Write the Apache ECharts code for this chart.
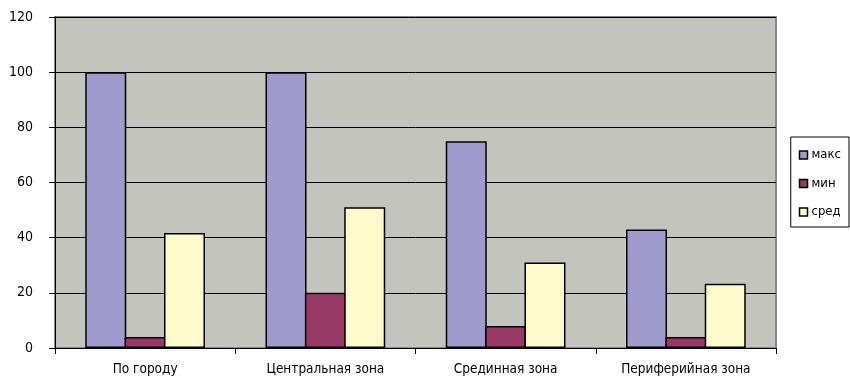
<!DOCTYPE html>
<html>
<head>
<meta charset="utf-8">
<script src="https://cdn.jsdelivr.net/npm/echarts@6/dist/echarts.min.js"></script>
<style>
  html, body { margin: 0; padding: 0; background: #fff; }
  #chart { width: 850px; height: 378px; }
</style>
</head>
<body>
<div id="chart"></div>
<script>
// Zones along the x axis
const categories = ['По городу', 'Центральная зона', 'Срединная зона', 'Периферийная зона'];
// Per-zone values
const maxValues = [100, 100, 75, 43];
const minValues = [4, 20, 8, 4];
const avgValues = [41.7, 51, 31, 23.3];
// Value axis ticks
const yTicks = [0, 20, 40, 60, 80, 100, 120];

const FONT = "'DejaVu Sans Condensed', 'Liberation Sans Narrow', sans-serif";

const chart = echarts.init(document.getElementById('chart'), null, { renderer: 'canvas' });

function barSeries(name, data, color) {
  return {
    name: name,
    type: 'bar',
    data: data,
    barWidth: 41,
    barGap: '-4%',
    itemStyle: { color: color, borderColor: '#000', borderWidth: 1.5 },
    emphasis: { disabled: true }
  };
}

chart.setOption({
  animation: false,
  textStyle: { fontFamily: FONT },
  grid: {
    left: 55, right: 74, top: 17, bottom: 30,
    show: true, backgroundColor: '#C4C4BE',
    borderColor: '#888', borderWidth: 2
  },
  legend: {
    orient: 'vertical',
    right: 1, top: 137,
    padding: [11, 8, 8, 8],
    itemGap: 14.5,
    itemWidth: 8, itemHeight: 8,
    icon: 'rect',
    borderColor: '#000', borderWidth: 1,
    backgroundColor: '#fff',
    itemStyle: { borderColor: '#000', borderWidth: 1.5 },
    textStyle: { fontFamily: FONT, fontSize: 13, lineHeight: 14, color: '#000', padding: [0, 0, 0, -1] },
    data: ['макс', 'мин', 'сред']
  },
  xAxis: {
    type: 'category',
    data: categories,
    axisLine: { lineStyle: { color: '#000', width: 1 } },
    axisTick: { show: true, length: 6, lineStyle: { color: '#000' } },
    axisLabel: { color: '#000', fontSize: 13.5, fontFamily: FONT, margin: 14 }
  },
  yAxis: {
    type: 'value',
    min: yTicks[0],
    max: yTicks[yTicks.length - 1],
    interval: yTicks[1] - yTicks[0],
    axisLine: { show: true, lineStyle: { color: '#000', width: 1 } },
    axisTick: { show: true, length: 6, lineStyle: { color: '#000' } },
    axisLabel: { color: '#000', fontSize: 14, fontFamily: FONT, margin: 22 },
    splitLine: { show: true, lineStyle: { color: '#000', width: 1 } }
  },
  series: [
    barSeries('макс', maxValues, '#A09BCE'),
    barSeries('мин', minValues, '#993A66'),
    barSeries('сред', avgValues, '#FFFACC')
  ]
});
</script>
</body>
</html>
